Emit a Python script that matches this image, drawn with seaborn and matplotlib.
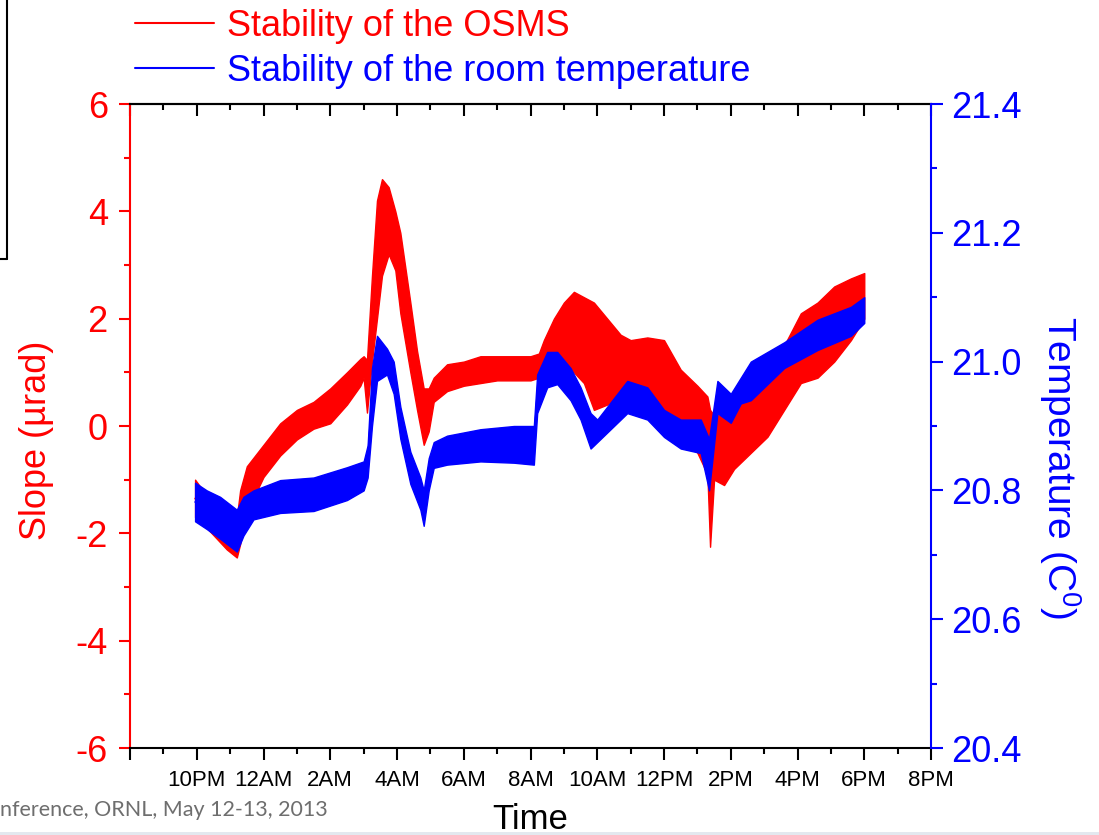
import numpy as np
import pandas as pd
import matplotlib
matplotlib.use("Agg")
import matplotlib.pyplot as plt
from matplotlib.lines import Line2D
from matplotlib.patches import Rectangle
from matplotlib.ticker import MultipleLocator
import seaborn as sns

# Time axis in hours after 8 PM; each series is stored as the low/high
# envelope of the noisy trace at each time.
slope_hours = [1.95, 2.3, 2.6, 2.9, 3.2, 3.3, 3.5, 4.0, 4.5, 5.0, 5.5, 6.0, 6.5, 6.9,
               7.0, 7.1, 7.25, 7.4, 7.55, 7.75, 7.95, 8.1, 8.4, 8.6, 8.8, 8.95, 9.1,
               9.5, 10.0, 10.5, 11.0, 11.5, 12.0, 12.25, 12.4, 12.7, 13.0, 13.3, 13.6,
               13.9, 14.3, 14.7, 15.0, 15.5, 16.0, 16.5, 17.0, 17.3, 17.38, 17.5, 17.8,
               18.1, 18.6, 19.1, 19.6, 20.1, 20.6, 21.1, 21.6, 22.0]
slope_low = [-1.7, -1.9, -2.1, -2.3, -2.45, -2.2, -1.6, -0.95, -0.55, -0.25, -0.05, 0.05,
             0.4, 0.75, 0.9, 0.25, 1.2, 2.0, 2.8, 3.2, 2.9, 2.1, 1.0, 0.3, -0.35, -0.1,
             0.45, 0.65, 0.75, 0.8, 0.85, 0.85, 0.85, 0.9, 1.2, 1.1, 1.0, 1.0, 0.8, 0.3,
             0.4, 0.6, 0.65, 0.4, 0.15, -0.15, -0.5, -0.9, -2.25, -1.0, -1.1, -0.8, -0.5,
             -0.2, 0.3, 0.8, 0.9, 1.2, 1.6, 2.0]
slope_high = [-1.0, -1.3, -1.4, -1.6, -1.7, -1.2, -0.75, -0.35, 0.05, 0.3, 0.45, 0.7,
              1.0, 1.25, 1.3, 1.23, 2.8, 4.2, 4.6, 4.45, 4.0, 3.6, 2.3, 1.4, 0.7, 0.7,
              0.9, 1.15, 1.2, 1.3, 1.3, 1.3, 1.3, 1.35, 1.6, 2.0, 2.3, 2.5, 2.4, 2.3,
              2.0, 1.7, 1.6, 1.65, 1.6, 1.05, 0.75, 0.55, 0.3, 0.2, 0.2, 0.35, 0.6, 0.95,
              1.5, 2.1, 2.3, 2.6, 2.75, 2.85]

temp_hours = [1.95, 2.3, 2.7, 3.2, 3.4, 3.7, 4.5, 5.5, 6.5, 7.0, 7.12, 7.25, 7.4, 7.7,
              7.9, 8.1, 8.4, 8.7, 8.8, 8.95, 9.1, 9.5, 10.5, 11.5, 12.1, 12.2, 12.5,
              12.8, 13.2, 13.5, 13.8, 14.0, 14.3, 14.9, 15.5, 16.0, 16.5, 17.1, 17.35,
              17.6, 18.0, 18.3, 18.6, 19.6, 20.6, 21.6, 22.0]
temp_low = [20.752, 20.74, 20.725, 20.705, 20.73, 20.755, 20.765, 20.768, 20.785, 20.80,
            20.82, 20.90, 20.97, 20.98, 20.95, 20.88, 20.81, 20.77, 20.745, 20.80, 20.835,
            20.84, 20.845, 20.843, 20.84, 20.92, 20.96, 20.965, 20.94, 20.91, 20.865,
            20.875, 20.89, 20.92, 20.91, 20.883, 20.865, 20.858, 20.80, 20.92, 20.905,
            20.935, 20.94, 20.99, 21.018, 21.04, 21.06]
temp_high = [20.812, 20.80, 20.79, 20.77, 20.79, 20.80, 20.816, 20.82, 20.836, 20.845,
             20.87, 20.99, 21.04, 21.02, 21.0, 20.93, 20.86, 20.82, 20.80, 20.85, 20.875,
             20.885, 20.895, 20.90, 20.90, 20.98, 21.015, 21.015, 20.99, 20.96, 20.92,
             20.91, 20.93, 20.97, 20.96, 20.925, 20.91, 20.91, 20.88, 20.97, 20.95,
             20.975, 21.0, 21.03, 21.065, 21.085, 21.1]

tick_hours = list(range(0, 25, 2))
tick_labels = ["", "10PM", "12AM", "2AM", "4AM", "6AM", "8AM", "10AM", "12PM",
               "2PM", "4PM", "6PM", "8PM"]

slope_df = pd.DataFrame({"hour": slope_hours + slope_hours,
                         "value": slope_low + slope_high})
temp_df = pd.DataFrame({"hour": temp_hours + temp_hours,
                        "value": temp_low + temp_high})

RED = "#FF0000"
BLUE = "#0000FF"

sns.set_theme(style="ticks")
plt.rcParams["font.family"] = ["Liberation Sans", "DejaVu Sans"]
plt.rcParams["mathtext.fontset"] = "custom"
plt.rcParams["mathtext.rm"] = "Liberation Sans"
plt.rcParams["mathtext.default"] = "regular"
plt.rcParams["axes.unicode_minus"] = False

fig = plt.figure(figsize=(10.99, 8.35), dpi=100)
ax = fig.add_axes([130 / 1099, 1 - 748 / 835, 801 / 1099, 644 / 835])
ax2 = ax.twinx()

sns.lineplot(data=slope_df, x="hour", y="value", ax=ax, color=RED,
             errorbar=("pi", 100), linewidth=1.2, legend=False,
             err_kws={"alpha": 1, "linewidth": 1.0, "edgecolor": RED})
sns.lineplot(data=temp_df, x="hour", y="value", ax=ax2, color=BLUE,
             errorbar=("pi", 100), linewidth=1.2, legend=False,
             err_kws={"alpha": 1, "linewidth": 1.0, "edgecolor": BLUE})

# axes ranges and ticks
ax.set_xlim(0, 24)
ax.set_ylim(-6, 6)
ax2.set_ylim(20.4, 21.4)
ax.set_xticks(tick_hours)
ax.set_xticklabels(tick_labels)
ax.xaxis.set_minor_locator(MultipleLocator(1))
ax.yaxis.set_major_locator(MultipleLocator(2))
ax.yaxis.set_minor_locator(MultipleLocator(1))
ax2.yaxis.set_major_locator(MultipleLocator(0.2))
ax2.yaxis.set_minor_locator(MultipleLocator(0.1))
ax2.set_yticks([20.4, 20.6, 20.8, 21.0, 21.2, 21.4])
ax2.set_yticklabels(["20.4", "20.6", "20.8", "21.0", "21.2", "21.4"])

ax.tick_params(axis="x", which="major", direction="out", length=8.5, width=1.5,
               color="black", labelsize=16, pad=7, labelcolor="black")
ax.tick_params(axis="x", which="minor", direction="out", length=4.5, width=1.5,
               color="black")
ax.tick_params(axis="y", which="major", direction="out", length=8, width=1.5,
               color=RED, labelcolor=RED, labelsize=26, pad=8)
ax.tick_params(axis="y", which="minor", direction="out", length=4.5, width=1.5,
               color=RED)
ax2.tick_params(axis="y", which="major", direction="out", length=8.5, width=1.5,
                color=BLUE, labelcolor=BLUE, labelsize=26, pad=6)
ax2.tick_params(axis="y", which="minor", direction="out", length=4.5, width=1.5,
                color=BLUE)

# inward ticks along the top edge
top = ax.secondary_xaxis("top")
top.set_xticks(tick_hours)
top.xaxis.set_minor_locator(MultipleLocator(1))
top.tick_params(axis="x", which="major", direction="in", length=8.5, width=1.5,
                color="black", labeltop=False)
top.tick_params(axis="x", which="minor", direction="in", length=4.5, width=1.5,
                color="black")
top.spines["top"].set_linewidth(1.5)
top.spines["top"].set_color("black")

for name in ["left", "right", "top", "bottom"]:
    ax.spines[name].set_linewidth(1.5)
    ax2.spines[name].set_linewidth(1.5)
ax.spines["left"].set_color(RED)
ax.spines["bottom"].set_color("black")
ax.spines["top"].set_color("black")
ax.spines["right"].set_visible(False)
ax2.spines["right"].set_color(BLUE)
ax2.spines["left"].set_visible(False)
ax2.spines["top"].set_visible(False)
ax2.spines["bottom"].set_visible(False)

ax.set_xlabel("Time", fontsize=25, color="black", labelpad=9)
ax.set_ylabel("Slope (\u00b5rad)", fontsize=26, color=RED)
ax.yaxis.set_label_coords(-0.095, 0.478)
ax2.set_ylabel("Temperature (C$^0$)", fontsize=28, color=BLUE, rotation=270)
ax2.yaxis.label.set_va("bottom")
ax2.yaxis.set_label_coords(1.132, 0.436)
ax.grid(False)
ax2.grid(False)

handles = [Line2D([], [], color=RED, linewidth=1.5),
           Line2D([], [], color=BLUE, linewidth=1.5)]
fig.legend(handles, ["Stability of the OSMS", "Stability of the room temperature"],
           loc="upper left", bbox_to_anchor=(135 / 1099, 1 - 9 / 835), frameon=False,
           fontsize=26, handlelength=2.2, handletextpad=0.36, labelspacing=0.27,
           borderpad=0.0, borderaxespad=0.0, labelcolor="linecolor")

# slide frame remnants around the chart
fig.add_artist(Line2D([6.5 / 1099, 6.5 / 1099], [1.0, 1 - 259 / 835],
                      color="black", linewidth=1.5))
fig.add_artist(Line2D([0, 6.5 / 1099], [1 - 259 / 835, 1 - 259 / 835],
                      color="black", linewidth=1.5))
fig.text(0.0, 1 - 816 / 835, "nference, ORNL, May 12-13, 2013", fontsize=15.5,
         color="#6e6e6e", family=["Lato", "DejaVu Sans"], ha="left", va="baseline")
fig.add_artist(Rectangle((0, 0), 1, 3 / 835, transform=fig.transFigure,
                         color="#e3e8ef", linewidth=0))

fig.savefig("out.png", dpi=100)
